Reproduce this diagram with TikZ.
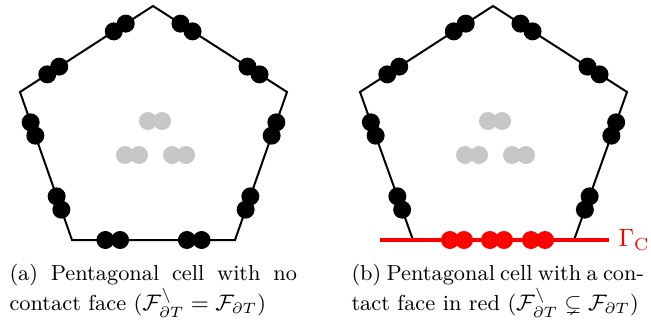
\documentclass[tikz,border=0pt]{standalone}
\usepackage{amsmath,amssymb}
\usepackage{xcolor}
\usetikzlibrary{calc}

\begin{document}
\begin{tikzpicture}[x=0.4pt, y=-0.4pt, every node/.style={font=\normalsize}, edge/.style={line width=0.8pt, line join=miter}, contact/.style={red, line width=1.3pt}, dofb/.style={fill=black}, dofg/.style={fill=black!22}, dofr/.style={fill=red}, capt/.style={anchor=north west, inner sep=0pt, align=justify, font=\fontsize{8.7}{12}\selectfont}]
    \useasboundingbox (0,0) rectangle (651,320);

    % left cell
    \coordinate (a1) at (153,6);
    \coordinate (a2) at (287,92);
    \coordinate (a3) at (235,240);
    \coordinate (a4) at (72,240);
    \coordinate (a5) at (20,92);
    \draw[edge] (a1) -- (a2) -- (a3) -- (a4) -- (a5) -- cycle;

    \foreach \p/\q in {a1/a2,a2/a3,a3/a4,a4/a5,a5/a1}{
      \foreach \t in {0.205,0.295,0.705,0.795}{
        \fill[dofb] ($(\p)!\t!(\q)$) circle[radius=9];
      }
    }
    \foreach \x/\y in {155/121,132/155,179/155}{
      \fill[dofg] (\x-7,\y) circle[radius=9];
      \fill[dofg] (\x+7,\y) circle[radius=9];
    }

    % right cell
    \coordinate (b1) at (493,6);
    \coordinate (b2) at (627,92);
    \coordinate (b3) at (574,240);
    \coordinate (b4) at (413,240);
    \coordinate (b5) at (360,92);
    \draw[edge] (b1) -- (b2) -- (b3) -- (b4) -- (b5) -- cycle;

    \foreach \p/\q in {b1/b2,b2/b3,b4/b5,b5/b1}{
      \foreach \t in {0.205,0.295,0.705,0.795}{
        \fill[dofb] ($(\p)!\t!(\q)$) circle[radius=9];
      }
    }
    \foreach \x/\y in {495/121,472/155,519/155}{
      \fill[dofg] (\x-7,\y) circle[radius=9];
      \fill[dofg] (\x+7,\y) circle[radius=9];
    }

    \coordinate (gL) at (380,240);
    \coordinate (gR) at (609,240);
    \draw[contact] (gL) -- (gR);
    \node[red, anchor=west, inner sep=0pt] (gamma) at (618,240) {$\Gamma_{\mathrm{C}}$};
    \foreach \x in {457,497,538}{
      \fill[dofr] (\x-7,240) circle[radius=9];
      \fill[dofr] (\x+7,240) circle[radius=9];
    }

    % captions
    \node[capt, text width=115pt] (capa) at (9,264) {(a) Pentagonal cell with no\linebreak contact face ($\mathcal{F}^{\setminus}_{\partial T} = \mathcal{F}_{\partial T}$)};
    \node[capt, text width=117pt] (capb) at (351,264) {(b) Pentagonal cell with a con-\linebreak tact face in red ($\mathcal{F}^{\setminus}_{\partial T} \subsetneq \mathcal{F}_{\partial T}$)};
\end{tikzpicture}
\end{document}
